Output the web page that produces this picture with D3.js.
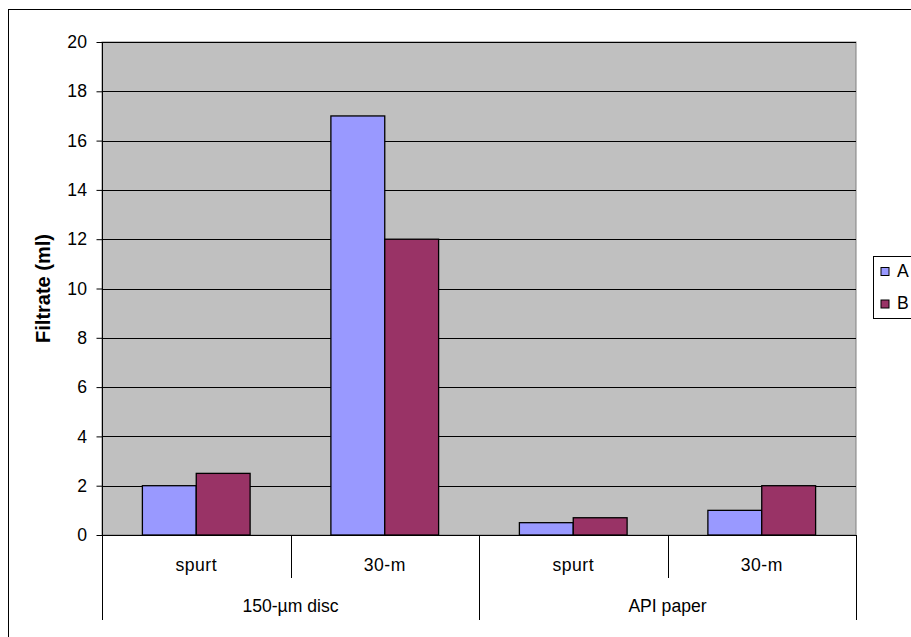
<!DOCTYPE html>
<html>
<head>
<meta charset="utf-8">
<script src="https://cdn.jsdelivr.net/npm/d3@7"></script>
<style>
  html, body { margin: 0; padding: 0; background: #fff; }
  svg { display: block; font-family: Arial, "Liberation Sans", sans-serif; }
</style>
</head>
<body>
<svg id="chart" width="911" height="637"></svg>
<script>
// Filtrate volumes by test stage, grouped by filter medium
const groups = ["150-µm disc", "API paper"];
const stages = ["spurt", "30-m"];
const seriesNames = ["A", "B"];
const seriesA = [2, 17, 0.5, 1];
const seriesB = [2.5, 12, 0.7, 2];
const yTicks = [0, 2, 4, 6, 8, 10, 12, 14, 16, 18, 20];
const colors = ["#9999FF", "#993366"];

const categories = [];
groups.forEach(g => stages.forEach(s => categories.push({ group: g, stage: s, key: g + "|" + s })));
const rows = categories.map((c, i) => ({ ...c, values: [seriesA[i], seriesB[i]] }));

const svg = d3.select("#chart");
const plot = { left: 102, top: 42, right: 856, bottom: 535 };
const FONT = 17.6;

// chart-area frame (runs past the right and bottom edges)
svg.append("rect")
  .attr("x", 8.5).attr("y", 9.5)
  .attr("width", 960).attr("height", 700)
  .attr("fill", "#fff").attr("stroke", "#000").attr("stroke-width", 1);

const x = d3.scaleBand()
  .domain(categories.map(c => c.key))
  .range([plot.left, plot.right])
  .paddingInner(0).paddingOuter(0);

const y = d3.scaleLinear().domain([0, 20]).range([plot.bottom, plot.top]);

// two bars per category, gap width 150% (0.75 bar width on each side)
const inner = d3.scaleBand().domain(seriesNames)
  .range([0, x.bandwidth()]).paddingInner(0).paddingOuter(0.75);

// plot background
svg.append("rect")
  .attr("x", plot.left).attr("y", plot.top)
  .attr("width", plot.right - plot.left).attr("height", plot.bottom - plot.top)
  .attr("fill", "#C0C0C0").attr("stroke", "#808080").attr("stroke-width", 1);

// horizontal gridlines
svg.append("g").selectAll("line").data(yTicks.filter(t => t > 0)).join("line")
  .attr("x1", plot.left).attr("x2", plot.right)
  .attr("y1", d => Math.round(y(d)) + 0.5).attr("y2", d => Math.round(y(d)) + 0.5)
  .attr("stroke", "#000").attr("stroke-width", 1);

// bars
const cat = svg.append("g").selectAll("g").data(rows).join("g")
  .attr("transform", d => `translate(${x(d.key)},0)`);
cat.selectAll("rect").data(d => d.values.map((v, i) => ({ v, s: seriesNames[i], i }))).join("rect")
  .attr("x", d => inner(d.s))
  .attr("y", d => y(d.v))
  .attr("width", inner.bandwidth())
  .attr("height", d => y(0) - y(d.v))
  .attr("fill", d => colors[d.i])
  .attr("stroke", "#000").attr("stroke-width", 1.3);

// y axis
const yAxis = d3.axisLeft(y).tickValues(yTicks).tickSize(6).tickPadding(9).tickFormat(d3.format("d"));
const yg = svg.append("g").attr("transform", `translate(${plot.left + 0.5},0)`).call(yAxis);
yg.select(".domain").remove();
yg.selectAll("line").attr("stroke", "#000");
yg.selectAll("text").attr("font-size", FONT).attr("fill", "#000")
  .attr("letter-spacing", 0.4)
  .attr("font-family", "Arial, 'Liberation Sans', sans-serif");
svg.append("line")
  .attr("x1", plot.left + 0.5).attr("x2", plot.left + 0.5)
  .attr("y1", plot.top).attr("y2", 620)
  .attr("stroke", "#000");

// x axis baseline
svg.append("line")
  .attr("x1", plot.left).attr("x2", plot.right)
  .attr("y1", plot.bottom + 0.5).attr("y2", plot.bottom + 0.5)
  .attr("stroke", "#000");

// category dividers: short between stages, long between groups
const bounds = categories.map(c => x(c.key)).concat([plot.right]);
svg.append("g").selectAll("line").data(bounds.slice(1)).join("line")
  .attr("x1", d => Math.round(d) + 0.5).attr("x2", d => Math.round(d) + 0.5)
  .attr("y1", plot.bottom).attr("y2", (d, i) => ((i + 1) % stages.length === 0) ? 620 : 578)
  .attr("stroke", "#000");

// stage labels
svg.append("g").selectAll("text").data(categories).join("text")
  .attr("x", d => x(d.key) + x.bandwidth() / 2)
  .attr("y", 571)
  .attr("text-anchor", "middle")
  .attr("font-size", FONT)
  .attr("letter-spacing", 0.5)
  .text(d => d.stage);

// group labels
svg.append("g").selectAll("text").data(groups).join("text")
  .attr("x", (g, i) => x(g + "|" + stages[0]) + x.bandwidth() * stages.length / 2)
  .attr("y", 612)
  .attr("text-anchor", "middle")
  .attr("font-size", FONT)
  .text(d => d);

// y axis title
svg.append("text")
  .attr("transform", `translate(50,${(plot.top + plot.bottom) / 2}) rotate(-90)`)
  .attr("text-anchor", "middle")
  .attr("font-size", 20).attr("font-weight", "bold")
  .text("Filtrate (ml)");

// legend
const lg = svg.append("g");
lg.append("rect")
  .attr("x", 873.5).attr("y", 256.5).attr("width", 60).attr("height", 62)
  .attr("fill", "#fff").attr("stroke", "#000");
seriesNames.forEach((s, i) => {
  lg.append("rect")
    .attr("x", 881).attr("y", 267.5 + i * 32.5).attr("width", 8).attr("height", 8)
    .attr("fill", colors[i]).attr("stroke", "#000");
  lg.append("text")
    .attr("x", 897).attr("y", 276.5 + i * 32.5)
    .attr("font-size", FONT)
    .text(s);
});
</script>
</body>
</html>
